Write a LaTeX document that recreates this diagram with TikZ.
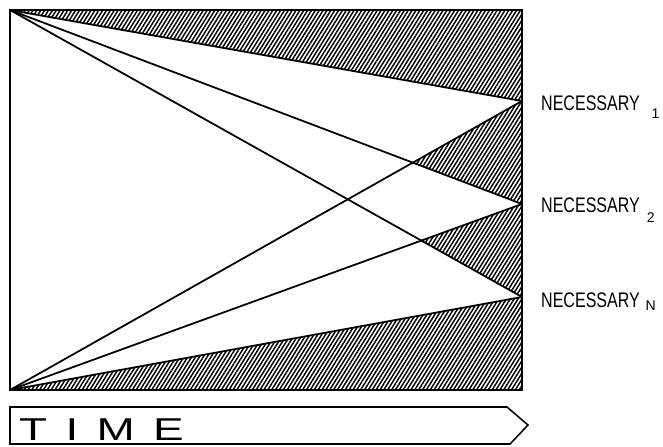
\documentclass[tikz,border=0pt]{standalone}
\usepackage{fontspec}
\setmainfont{Liberation Sans}
\usetikzlibrary{patterns.meta}

\begin{document}
\begin{tikzpicture}[x=0.03cm,y=-0.03cm,
  hatch/.style={pattern={Lines[angle=58,distance=2.8pt,line width=1.25pt]}},
  ray/.style={line width=1.5pt},
  need/.style={anchor=base west,inner sep=0pt,font=\fontsize{18}{18}\selectfont}]
\useasboundingbox (0,0) rectangle (663,447);
\coordinate (tl) at (10,10);
\coordinate (tr) at (522,10);
\coordinate (bl) at (10,390);
\coordinate (br) at (522,390);
\coordinate (n1) at (522,101);
\coordinate (n2) at (522,204);
\coordinate (nn) at (522,297);
\coordinate (x1) at (intersection of bl--n1 and tl--n2);
\coordinate (x2) at (intersection of bl--n2 and tl--nn);
\fill[hatch] (tl) -- (tr) -- (n1) -- cycle;
\fill[hatch] (n1) -- (x1) -- (n2) -- cycle;
\fill[hatch] (n2) -- (x2) -- (nn) -- cycle;
\fill[hatch] (bl) -- (nn) -- (br) -- cycle;
\draw[ray] (tl) -- (n1);
\draw[ray] (tl) -- (n2);
\draw[ray] (tl) -- (nn);
\draw[ray] (bl) -- (n1);
\draw[ray] (bl) -- (n2);
\draw[ray] (bl) -- (nn);
\draw[line width=2.2pt] (tl) rectangle (br);
\node[need] (need1) at (541,110) {\scalebox{0.76}[1]{NECESSARY}\hspace{10pt}\raisebox{-7pt}{\fontsize{12}{12}\selectfont 1}};
\node[need] (need2) at (541,212) {\scalebox{0.76}[1]{NECESSARY}\hspace{6pt}\raisebox{-9pt}{\fontsize{12}{12}\selectfont 2}};
\node[need] (needn) at (541,307) {\scalebox{0.76}[1]{NECESSARY}\hspace{5pt}\raisebox{-3pt}{\fontsize{12}{12}\selectfont N}};
\draw[line width=1.3pt] (10,407) -- (507,407) -- (528,425) -- (510,444) -- (10,444) -- cycle;
\node[anchor=base west,inner sep=0pt] (time) at (19,440)
  {\fontsize{27}{27}\selectfont\addfontfeature{LetterSpace=40}\scalebox{1.45}[1]{TIME}};
\end{tikzpicture}
\end{document}
